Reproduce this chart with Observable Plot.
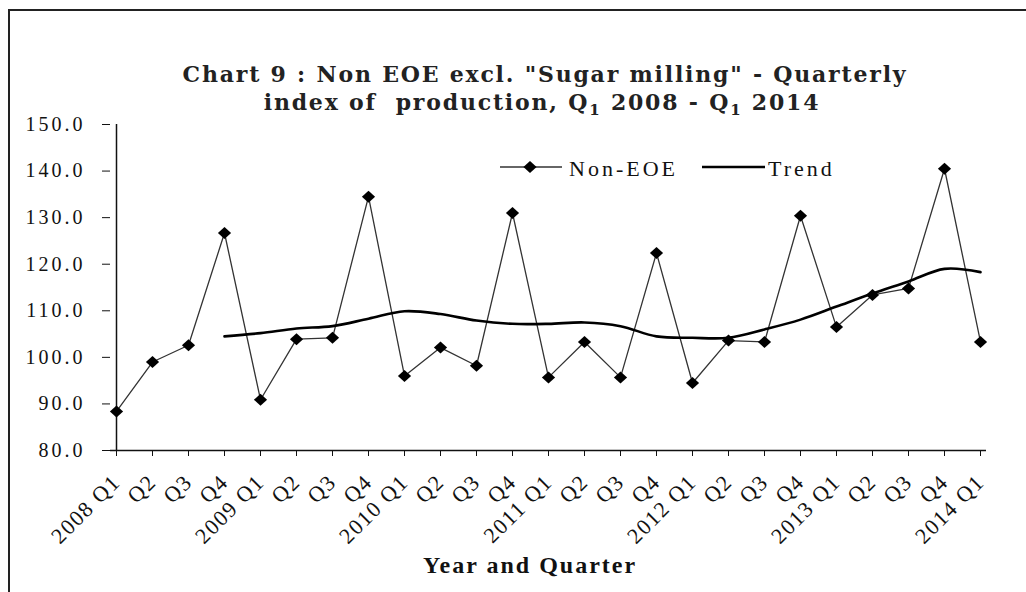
<!DOCTYPE html>
<html><head><meta charset="utf-8">
<script src="https://cdn.jsdelivr.net/npm/d3@7"></script>
<script src="https://cdn.jsdelivr.net/npm/@observablehq/plot@0.6"></script>
<style>
body{margin:0;background:#fff;}
#wrap{position:relative;width:1026px;height:592px;overflow:hidden;background:#fff;}
#wrap svg{position:absolute;left:0;top:0;}
</style></head><body><div id="wrap"></div>
<script>
const periods = ["2008 Q1","2008 Q2","2008 Q3","2008 Q4","2009 Q1","2009 Q2","2009 Q3","2009 Q4",
  "2010 Q1","2010 Q2","2010 Q3","2010 Q4","2011 Q1","2011 Q2","2011 Q3","2011 Q4",
  "2012 Q1","2012 Q2","2012 Q3","2012 Q4","2013 Q1","2013 Q2","2013 Q3","2013 Q4","2014 Q1"];
const tickLabels = ["2008 Q1","Q2","Q3","Q4","2009 Q1","Q2","Q3","Q4","2010 Q1","Q2","Q3","Q4",
  "2011 Q1","Q2","Q3","Q4","2012 Q1","Q2","Q3","Q4","2013 Q1","Q2","Q3","Q4","2014 Q1"];
const nonEOE = [88.4, 99.0, 102.6, 126.7, 90.9, 103.9, 104.2, 134.5, 96.0, 102.1, 98.2, 131.0,
  95.7, 103.3, 95.7, 122.4, 94.5, 103.6, 103.3, 130.4, 106.5, 113.4, 114.8, 140.5, 103.3];
const trend = [null, null, null, 104.5, 105.2, 106.2, 106.7, 108.3, 109.9, 109.3, 107.9, 107.2,
  107.2, 107.5, 106.7, 104.5, 104.2, 104.2, 106.0, 108.1, 110.9, 113.7, 116.3, 119.0, 118.3];
const yTicks = [80, 90, 100, 110, 120, 130, 140, 150];
const titleLine1 = "Chart 9 : Non EOE excl. \"Sugar milling\" - Quarterly";
const titleLine2 = ["index of  production, Q", "1", " 2008 - Q", "1", " 2014"];
const xTitle = "Year and Quarter";
const seriesNames = ["Non-EOE", "Trend"];

const serif = "'Liberation Serif', 'Times New Roman', Tinos, Times, serif";
const data = periods.map((p, i) => ({p, v: nonEOE[i], t: trend[i]}));
const diamond = {draw(ctx, size) {
  const r = Math.sqrt(size / Math.PI);
  const w = r * 1.1;
  ctx.moveTo(0, -r); ctx.lineTo(w, 0); ctx.lineTo(0, r); ctx.lineTo(-w, 0); ctx.closePath();
}};

const chart = Plot.plot({
  width: 1026, height: 592,
  marginLeft: 110, marginRight: 40, marginTop: 124, marginBottom: 142,
  style: {fontFamily: serif, fontSize: "20px", color: "#111", background: "transparent"},
  x: {type: "point", domain: periods, padding: 0},
  y: {domain: [80, 150]},
  marks: [
    Plot.axisY(yTicks, {tickSize: 8, tickPadding: 17, tickFormat: d => d.toFixed(1), label: null, fontSize: 20, fontFamily: serif}),
    Plot.axisX({tickSize: 6, tickPadding: 22, tickRotate: -45, label: null, fontSize: 22, fontFamily: serif,
      tickFormat: d => tickLabels[periods.indexOf(d)]}),
    Plot.ruleY([80], {stroke: "#111", strokeWidth: 1.5}),
    Plot.ruleX([periods[0]], {y1: 80, y2: 150, stroke: "#111", strokeWidth: 1.5}),
    Plot.line(data, {x: "p", y: "v", stroke: "#333", strokeWidth: 1.3}),
    Plot.line(data.filter(d => d.t != null), {x: "p", y: "t", stroke: "#000", strokeWidth: 2.6, curve: "catmull-rom"}),
    Plot.dot(data, {x: "p", y: "v", symbol: diamond, r: 6, fill: "#000", stroke: "none"})
  ]
});
const wrap = document.getElementById("wrap");
wrap.appendChild(chart);
d3.select(chart).selectAll("[aria-label='y-axis tick label'] text").attr("letter-spacing", "3px");
d3.select(chart).selectAll("[aria-label='x-axis tick label'] text").attr("letter-spacing", "1.5px");

const ov = d3.select(wrap).append("svg").attr("width", 1026).attr("height", 592);
ov.append("path").attr("d", "M9,592V10H1026").attr("fill", "none").attr("stroke", "#222").attr("stroke-width", 2);
const tf = "'DejaVu Serif', serif";
ov.append("text").attr("x", 545).attr("y", 82).attr("text-anchor", "middle")
  .attr("font-family", tf).attr("font-weight", "bold").attr("font-size", 22).attr("letter-spacing", "1.8px")
  .attr("fill", "#222").text(titleLine1);
const t2 = ov.append("text").attr("x", 542).attr("y", 110).attr("text-anchor", "middle")
  .attr("font-family", tf).attr("font-weight", "bold").attr("font-size", 22).attr("letter-spacing", "1.8px")
  .attr("fill", "#222").style("white-space", "pre");
titleLine2.forEach((s, i) => {
  const ts = t2.append("tspan").text(s);
  if (i % 2 === 1) ts.attr("font-size", 15).attr("dy", 5);
  else if (i > 0) ts.attr("dy", -5);
});
// legend
const lg = ov.append("g");
lg.append("line").attr("x1", 500).attr("x2", 562).attr("y1", 167).attr("y2", 167).attr("stroke", "#333").attr("stroke-width", 1.3);
lg.append("path").attr("d", d3.symbol(diamond, Math.PI * 36)()).attr("transform", "translate(530,167)").attr("fill", "#000");
lg.append("text").attr("x", 569).attr("y", 176).attr("font-family", serif).attr("font-size", 22)
  .attr("letter-spacing", "3px").attr("fill", "#111").text(seriesNames[0]);
lg.append("line").attr("x1", 702).attr("x2", 765).attr("y1", 167).attr("y2", 167).attr("stroke", "#000").attr("stroke-width", 2.6);
lg.append("text").attr("x", 768).attr("y", 176).attr("font-family", serif).attr("font-size", 22)
  .attr("letter-spacing", "3px").attr("fill", "#111").text(seriesNames[1]);
ov.append("text").attr("x", 530).attr("y", 573).attr("text-anchor", "middle")
  .attr("font-family", serif).attr("font-weight", "bold").attr("font-size", 24)
  .attr("letter-spacing", "2px").attr("fill", "#111").text(xTitle);
</script></body></html>
